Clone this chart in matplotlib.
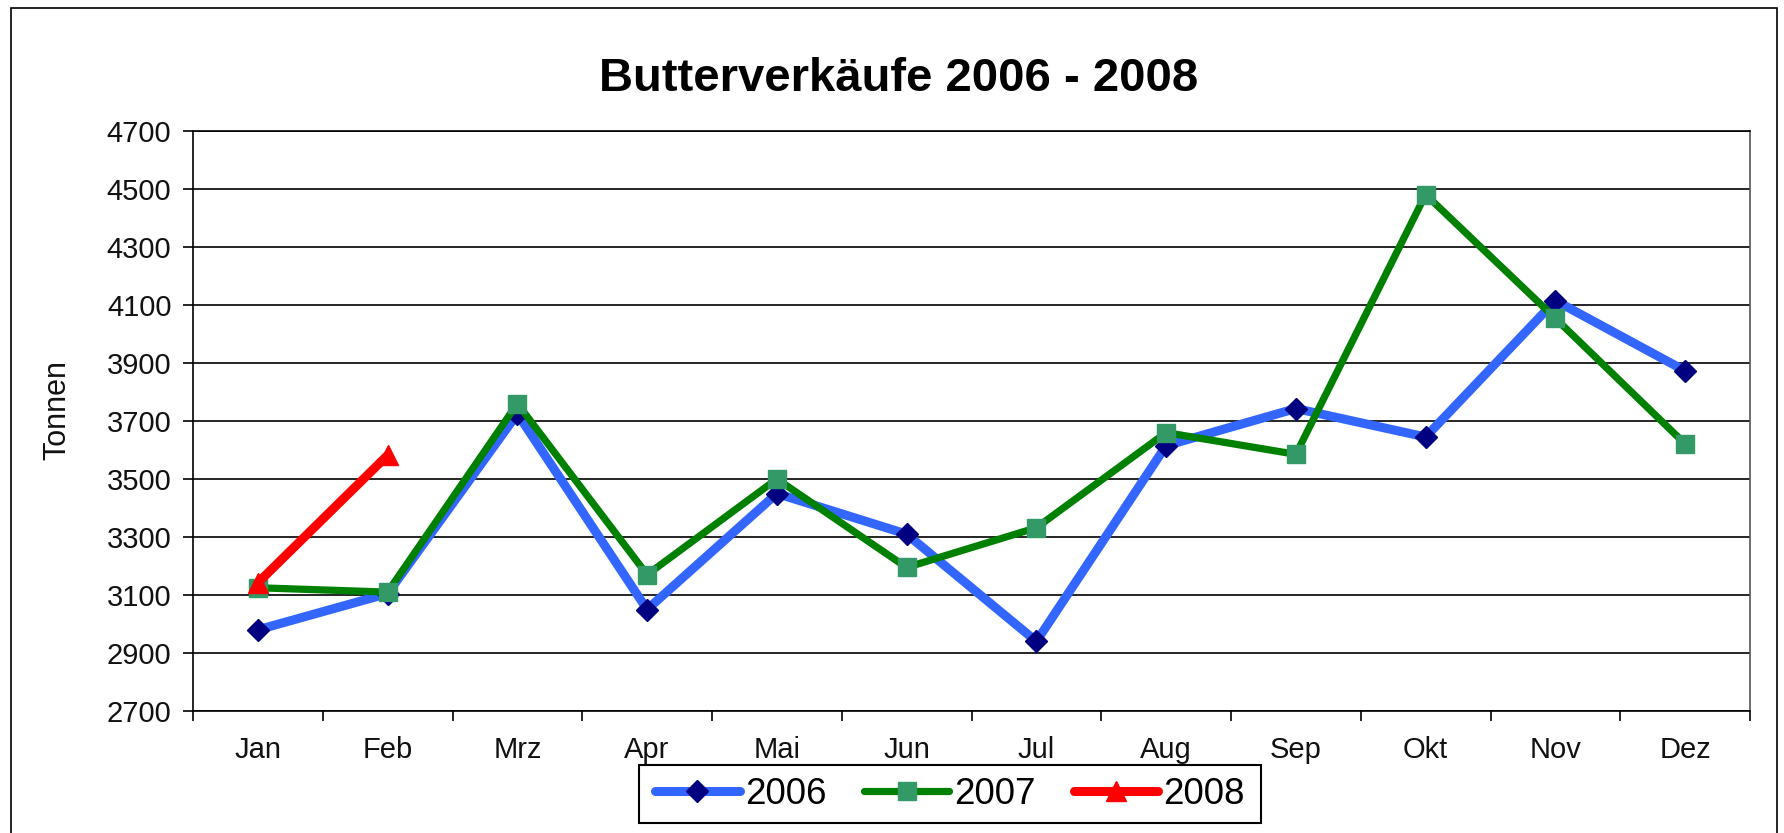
import matplotlib
matplotlib.use("Agg")
import matplotlib.pyplot as plt
from matplotlib.patches import Rectangle

plt.rcParams['font.family'] = ['Liberation Sans', 'DejaVu Sans']

months = ["Jan", "Feb", "Mrz", "Apr", "Mai", "Jun", "Jul", "Aug", "Sep", "Okt", "Nov", "Dez"]
sales_2006 = [2980, 3105, 3725, 3050, 3450, 3310, 2940, 3615, 3743, 3645, 4115, 3873]
sales_2007 = [3125, 3110, 3760, 3170, 3500, 3195, 3332, 3660, 3585, 4481, 4054, 3621]
sales_2008 = [3142, 3582]
yticks = list(range(2700, 4701, 200))

W, H = 1784, 833
fig = plt.figure(figsize=(W / 100, H / 100), dpi=100)
fig.patch.set_facecolor("white")

# outer chart frame
fig.add_artist(Rectangle((11 / W, -0.05), (1777 - 11) / W, 1 - 8 / H + 0.05,
                         transform=fig.transFigure, fill=False, edgecolor="black", lw=1.2))

ax = fig.add_axes([193 / W, 1 - 711 / H, (1750 - 193) / W, (711 - 131) / H])

x = list(range(len(months)))
ax.plot(x, sales_2006, color="#3366FF", lw=6.5, marker="D", ms=11,
        mfc="#000080", mec="#000080", solid_capstyle="round", zorder=3, label="2006")
ax.plot(x, sales_2007, color="#008000", lw=5.2, marker="s", ms=13,
        mfc="#339966", mec="#339966", solid_capstyle="round", zorder=4, label="2007")
ax.plot(x[:len(sales_2008)], sales_2008, color="#FF0000", lw=6.5, marker="^", ms=14,
        mfc="#FF0000", mec="#FF0000", solid_capstyle="round", zorder=5, label="2008")

ax.set_xlim(-0.5, len(months) - 0.5)
ax.set_ylim(2700, 4700)
ax.set_yticks(yticks)
ax.set_yticklabels([str(v) for v in yticks], fontsize=21, color="#111111")
ax.set_xticks(x)
ax.set_xticklabels(months, fontsize=21, color="#111111")
ax.tick_params(axis="x", which="major", length=0, pad=18)
ax.set_xticks([i - 0.5 for i in range(len(months) + 1)], minor=True)
ax.tick_params(axis="x", which="minor", length=7.5, width=1.2, direction="out")
ax.tick_params(axis="y", length=7.5, width=1.2, direction="out", pad=8)

ax.yaxis.grid(True, color="black", lw=1.2)
ax.set_axisbelow(True)
for s in ax.spines.values():
    s.set_color("black")
    s.set_linewidth(1.2)
ax.spines["right"].set_color("#555555")

ax.set_ylabel("Tonnen", fontsize=22, color="#111111")
ax.yaxis.label.set_va("center")
ax.yaxis.set_label_coords((57 - 193) / (1750 - 193), (711 - 410) / (711 - 131))

fig.text(899 / W, 1 - 79 / H, "Butterverkäufe 2006 - 2008", fontsize=34,
         fontweight="bold", ha="center", va="center")

leg = fig.legend(loc="center", bbox_to_anchor=(950 / W, 1 - 794 / H),
                 ncol=3, fontsize=26.5, frameon=False,
                 handlelength=2.3, handletextpad=0.14, columnspacing=1.03,
                 borderpad=0.25)

# legend frame
fig.canvas.draw()
bb = leg.get_window_extent(fig.canvas.get_renderer())
padx = 7
fig.add_artist(Rectangle(((bb.x0 - padx) / W, 1 - 823 / H),
                         (bb.width + 2 * padx) / W, (823 - 765) / H,
                         transform=fig.transFigure, fill=False,
                         edgecolor="black", lw=1.5, zorder=10))

fig.savefig("out.png", dpi=100)
